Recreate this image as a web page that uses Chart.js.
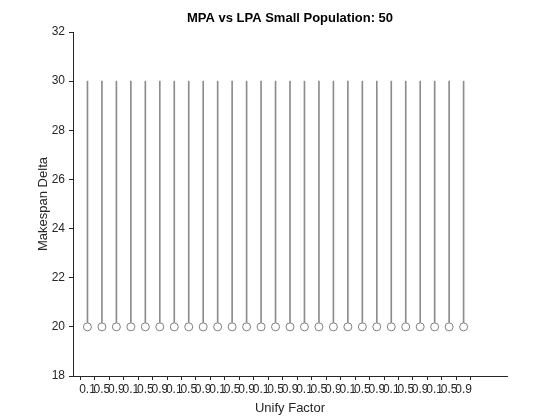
<!DOCTYPE html>
<html><head><meta charset="utf-8">
<script src="https://cdn.jsdelivr.net/npm/chart.js@4"></script>
<style>html,body{margin:0;padding:0;background:#fff}#w{width:560px;height:420px}</style>
</head><body><div id="w"><canvas id="c"></canvas></div>
<script>
const categories = [0.1,0.5,0.9,0.1,0.5,0.9,0.1,0.5,0.9,0.1,0.5,0.9,0.1,0.5,0.9,0.1,0.5,0.9,0.1,0.5,0.9,0.1,0.5,0.9,0.1,0.5,0.9];
const lowValues = new Array(27).fill(20);
const highValues = new Array(27).fill(30);
const yTicks = [18,20,22,24,26,28,30,32];
const titleText = 'MPA vs LPA Small Population: 50';

const stems = categories.map((c,i)=>({x:i+1, y:[lowValues[i], highValues[i]]}));
const pts = categories.map((c,i)=>({x:i+1, y:lowValues[i]}));
const FF = 'Liberation Sans, Arial, sans-serif';
const font = {family:FF, size:12};

const titlePlugin = {id:'ctitle', afterDraw(ch){const a=ch.chartArea, c=ch.ctx; c.save();
  c.font='bold 13px '+FF; c.fillStyle='#000'; c.textAlign='center'; c.textBaseline='middle';
  c.fillText(titleText,(a.left+a.right)/2,18); c.restore();}};

new Chart(document.getElementById('c'), {
  data: {datasets: [
    {type:'bar', data:stems, backgroundColor:'#8c8c8c', borderWidth:0, barThickness:1, order:2},
    {type:'scatter', data:pts, pointStyle:'circle', pointRadius:4, pointBorderColor:'#808080', pointBackgroundColor:'#fff', pointBorderWidth:1, order:1}
  ]},
  plugins:[titlePlugin],
  options: {
    responsive:true, maintainAspectRatio:false, animation:false,
    layout:{padding:{left:32,right:53,top:32,bottom:0}},
    plugins:{legend:{display:false}, tooltip:{enabled:false}, title:{display:false}},
    scales:{
      x:{type:'linear', min:0, max:30, offset:false,
        afterBuildTicks(a){a.ticks = categories.map((c,i)=>({value:i+1}));},
        ticks:{autoSkip:false, maxRotation:0, color:'#262626', font, padding:2,
          callback:(v)=>{const i=Math.round(v)-1; return categories[i]!==undefined?String(categories[i]):'';}},
        grid:{drawOnChartArea:false, color:'#262626', tickLength:4},
        border:{color:'#262626'},
        title:{display:true, text:'Unify Factor', color:'#262626', font:{family:FF, size:13}, padding:{top:3}},
        afterFit(s){s.height=44;}
      },
      y:{min:18, max:32,
        afterBuildTicks(a){a.ticks = yTicks.map(v=>({value:v}));},
        ticks:{color:'#262626', font, padding:4},
        grid:{drawOnChartArea:false, color:'#262626', tickLength:4},
        border:{color:'#262626'},
        title:{display:true, text:'Makespan Delta', color:'#262626', font:{family:FF, size:13}, padding:{bottom:0}},
        afterFit(s){s.width=41;}
      }
    }
  }
});
</script></body></html>
